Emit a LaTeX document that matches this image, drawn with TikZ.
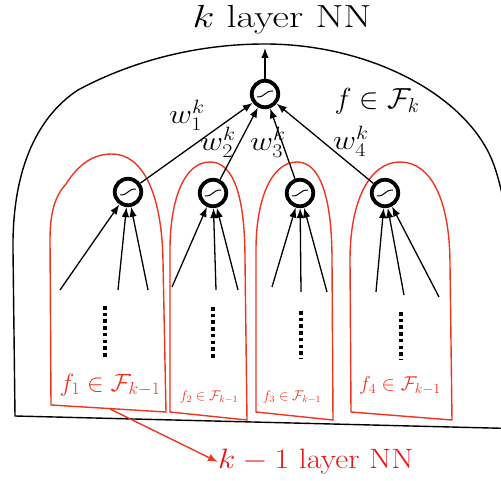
\RequirePackage{fix-cm}
\documentclass[tikz,border=0pt]{standalone}
\usepackage{graphicx}
\usetikzlibrary{arrows.meta}
\definecolor{nnred}{RGB}{240,52,32}
\definecolor{txtred}{RGB}{235,20,20}
\newcommand{\wlab}[1]{\fontsize{27.5}{32}\selectfont\scalebox{1.15}[1]{#1}}
\tikzset{
  unit/.style={circle, draw, line width=3.8pt, minimum size=26.5pt, inner sep=0pt},
  sig/.style={line width=1pt},
  arr/.style={line width=1.3pt, -{Latex[length=10pt,width=7.5pt]}},
  redarr/.style={draw=nnred, line width=1.4pt, -{Latex[length=10pt,width=7.5pt]}, nnred},
  subnet/.style={draw=nnred, line width=1.4pt},
  vdots/.style={line width=3.6pt, dash pattern=on 3.6pt off 3.1pt},
  lab/.style={inner sep=0pt},
  redlab/.style={text=nnred, inner sep=0pt},
}
\begin{document}
\begin{tikzpicture}[x=1pt,y=-1pt]
\useasboundingbox (0,0) rectangle (501,481);
% outer black region
\draw[line width=1.4pt] (530,429) -- (15,416) -- (13,250)
  .. controls (12,165) and (40,115) .. (78,90)
  .. controls (130,62) and (195,44) .. (265,44)
  .. controls (370,44) and (465,95) .. (492,160)
  .. controls (500,180) and (505,205) .. (510,240);
% red sub networks
\draw[subnet] (51,405) -- (50,240) .. controls (50,210) and (56,195) .. (66,184)
  .. controls (80,162) and (95,154) .. (112,154)
  .. controls (142,154) and (162,192) .. (163,262) -- (166,412) -- cycle;
\draw[subnet] (170,412) -- (170,250) .. controls (170,200) and (184,162) .. (210,162)
  .. controls (235,162) and (245,200) .. (245,260) -- (247,420) -- cycle;
\draw[subnet] (256,412) -- (256,250) .. controls (256,200) and (271,162) .. (297,162)
  .. controls (321,162) and (332,200) .. (332,260) -- (333,420) -- cycle;
\draw[subnet] (351,412) -- (350,260) .. controls (350,200) and (370,162) .. (400,162)
  .. controls (431,162) and (450,200) .. (450,265) -- (452,420) -- cycle;
% units
\node[unit] (t) at (265,94) {};
\node[unit] (a) at (128,192) {};
\node[unit] (b) at (213,193) {};
\node[unit] (c) at (300,193) {};
\node[unit] (d) at (385,193) {};
\foreach \n in {t,a,b,c,d}
  \draw[sig] ([shift={(-8,3)}]\n.center) .. controls ([shift={(1,3)}]\n.center) and ([shift={(-1,-3)}]\n.center) .. ([shift={(8,-3)}]\n.center);
% output
\coordinate (out) at (265,48);
\draw[arr] (t) -- (out);
% weighted edges
\draw[arr] (a) -- (t);
\draw[arr] (b) -- (t);
\draw[arr] (c) -- (t);
\draw[arr] (d) -- (t);
% inputs
\coordinate (a1) at (60,290); \coordinate (a2) at (118,290); \coordinate (a3) at (148,290);
\coordinate (b1) at (172,287); \coordinate (b2) at (216,290); \coordinate (b3) at (238,290);
\coordinate (c1) at (272,287); \coordinate (c2) at (301,292); \coordinate (c3) at (327,292);
\coordinate (d1) at (376,292); \coordinate (d2) at (404,295); \coordinate (d3) at (439,297);
\foreach \n in {a,b,c,d}
  \foreach \i in {1,2,3}
    \draw[arr] (\n\i) -- (\n);
% vertical dots
\draw[vdots] (105,306) -- (105,359);
\draw[vdots] (213,307) -- (213,359);
\draw[vdots] (301,311) -- (301,359);
\draw[vdots] (401,312) -- (401,359);
% labels
\node[inner sep=0pt] (title) at (282,20) {\fontsize{32}{38}\selectfont\scalebox{1.26}[1]{$k$ layer NN}};
\node[lab, font=\fontsize{29}{34}\selectfont] (fk) at (377,101) {$f\in\mathcal{F}_k$};
\node[lab] (w1) at (187,115) {\wlab{$w_1^k$}};
\node[lab] (w2) at (218,142) {\wlab{$w_2^k$}};
\node[lab] (w3) at (268,142) {\wlab{$w_3^k$}};
\node[lab] (w4) at (351,141) {\wlab{$w_4^k$}};
\node[redlab, font=\fontsize{25}{29}\selectfont] (f1) at (110,385) {$f_1\in\mathcal{F}_{k-1}$};
\node[redlab, font=\fontsize{14}{17}\selectfont] (f2) at (209,397) {$f_2\in\mathcal{F}_{k-1}$};
\node[redlab, font=\fontsize{14}{17}\selectfont] (f3) at (292,397) {$f_3\in\mathcal{F}_{k-1}$};
\node[redlab, font=\fontsize{20}{24}\selectfont] (f4) at (400,386) {$f_4\in\mathcal{F}_{k-1}$};
\node[inner sep=0pt, text=txtred, anchor=west] (km1) at (218,462) {\fontsize{28}{34}\selectfont\scalebox{1.14}[1]{$k-1$ layer NN}};
\coordinate (s1) at (110,409);
\draw[redarr] (s1) -- (km1.west);
\end{tikzpicture}
\end{document}
